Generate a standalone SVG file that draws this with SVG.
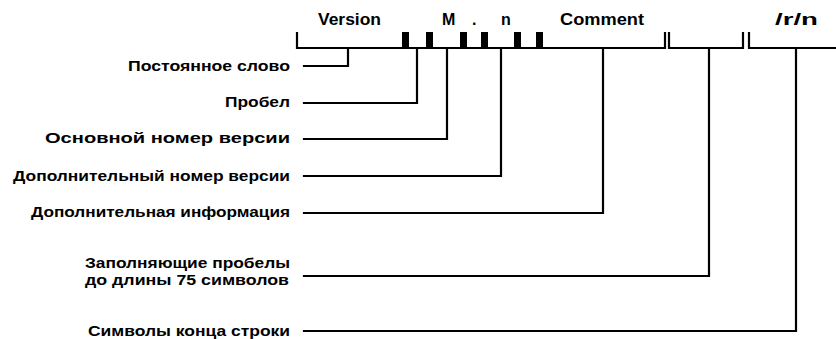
<svg xmlns="http://www.w3.org/2000/svg" width="836" height="339" viewBox="0 0 836 339">
<style>
  .ln { fill: none; stroke: #000; stroke-width: 2.2; stroke-linecap: square; }
  .blk { fill: #000; }
  .lbl { font-family: "Liberation Sans", Arial, sans-serif; font-weight: bold; font-size: 14.5px; fill: #000; text-anchor: end; }
  .hdr { font-family: "Liberation Sans", Arial, sans-serif; font-weight: bold; font-size: 16px; fill: #000; }
</style>
<rect width="836" height="339" fill="#fff"/>

<g id="record">
  <path class="ln" d="M297,33 V48 H665 V33 M669,33 V48 H743 V33 M749,33 V48 H836"/>
  <rect class="blk" x="402" y="32" width="7" height="16"/>
  <rect class="blk" x="426" y="32" width="7" height="16"/>
  <rect class="blk" x="460" y="32" width="7" height="16"/>
  <rect class="blk" x="481" y="32" width="7" height="16"/>
  <rect class="blk" x="514" y="32" width="7" height="16"/>
  <rect class="blk" x="536" y="32" width="7" height="16"/>
  <text class="hdr" x="318" y="25" textLength="63" lengthAdjust="spacingAndGlyphs">Version</text>
  <text class="hdr" x="442" y="25">M</text>
  <text class="hdr" x="472" y="25">.</text>
  <text class="hdr" x="501" y="25">n</text>
  <text class="hdr" x="560" y="25" textLength="84" lengthAdjust="spacingAndGlyphs">Comment</text>
  <text class="hdr" x="775" y="25" textLength="43" lengthAdjust="spacingAndGlyphs">/r/n</text>
</g>

<g id="label-const">
  <text class="lbl" x="290" y="71" textLength="162" lengthAdjust="spacingAndGlyphs">Постоянное слово</text>
</g>
<g id="label-space">
  <text class="lbl" x="290" y="107" textLength="65" lengthAdjust="spacingAndGlyphs">Пробел</text>
</g>
<g id="label-major">
  <text class="lbl" x="290" y="143" textLength="245" lengthAdjust="spacingAndGlyphs">Основной номер версии</text>
</g>
<g id="label-minor">
  <text class="lbl" x="290" y="181" textLength="277" lengthAdjust="spacingAndGlyphs">Дополнительный номер версии</text>
</g>
<g id="label-info">
  <text class="lbl" x="290" y="217" textLength="259" lengthAdjust="spacingAndGlyphs">Дополнительная информация</text>
</g>
<g id="label-fill">
  <text class="lbl" x="290" y="268" textLength="205" lengthAdjust="spacingAndGlyphs">Заполняющие пробелы</text>
  <text class="lbl" x="289" y="285" textLength="204" lengthAdjust="spacingAndGlyphs">до длины 75  символов</text>
</g>
<g id="label-eol">
  <text class="lbl" x="290" y="336" textLength="202" lengthAdjust="spacingAndGlyphs">Символы конца строки</text>
</g>

<g id="connectors">
  <path class="ln" d="M304,66 H348 V48"/>
  <path class="ln" d="M304,103 H417 V48"/>
  <path class="ln" d="M304,139 H447 V48"/>
  <path class="ln" d="M304,176 H501 V48"/>
  <path class="ln" d="M304,213 H603 V48"/>
  <path class="ln" d="M304,276 H709 V48"/>
  <path class="ln" d="M304,331 H796 V48"/>
</g>
</svg>
